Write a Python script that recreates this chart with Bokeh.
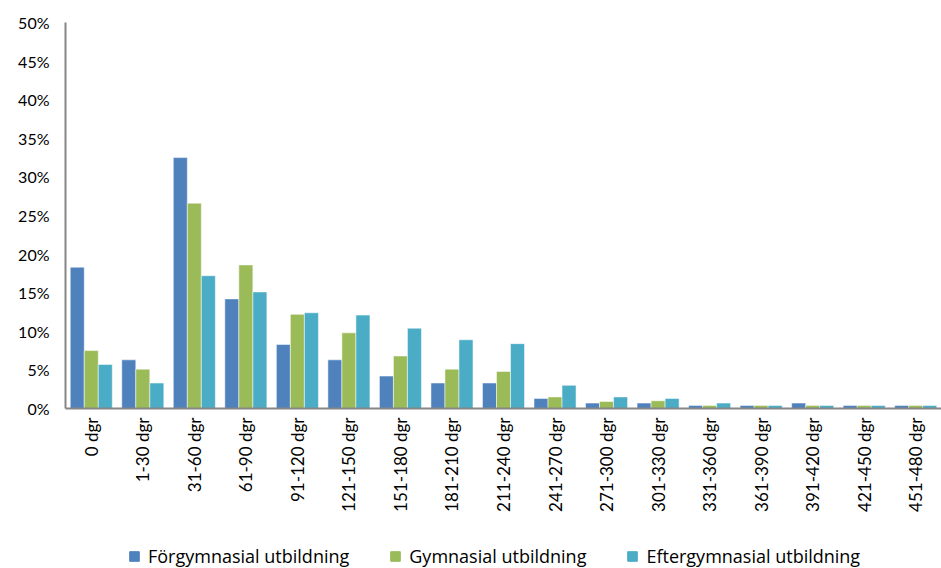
import math
from bokeh.plotting import figure
from bokeh.layouts import column
from bokeh.models import FactorRange, ColumnDataSource, Legend, LegendItem, NumeralTickFormatter, SingleIntervalTicker
from bokeh.transform import dodge
from bokeh.embed import file_html
from bokeh.resources import INLINE

categories = ["0 dgr", "1-30 dgr", "31-60 dgr", "61-90 dgr", "91-120 dgr", "121-150 dgr",
              "151-180 dgr", "181-210 dgr", "211-240 dgr", "241-270 dgr", "271-300 dgr",
              "301-330 dgr", "331-360 dgr", "361-390 dgr", "391-420 dgr", "421-450 dgr",
              "451-480 dgr"]
forgymnasial = [0.183, 0.063, 0.325, 0.142, 0.083, 0.063, 0.042, 0.033, 0.033, 0.013, 0.007,
                0.007, 0.004, 0.004, 0.007, 0.004, 0.004]
gymnasial = [0.075, 0.051, 0.266, 0.186, 0.122, 0.098, 0.068, 0.051, 0.048, 0.015, 0.009,
             0.010, 0.004, 0.004, 0.004, 0.004, 0.004]
eftergymnasial = [0.057, 0.033, 0.172, 0.151, 0.124, 0.121, 0.104, 0.089, 0.084, 0.030, 0.015,
                  0.013, 0.007, 0.004, 0.004, 0.004, 0.004]
series_names = ["Förgymnasial utbildning", "Gymnasial utbildning", "Eftergymnasial utbildning"]
colors = ["#4F81BD", "#9BBB59", "#4BACC6"]

source = ColumnDataSource(dict(cat=categories, f=forgymnasial, g=gymnasial, e=eftergymnasial))

FONT = "Lato"

p = figure(x_range=FactorRange(*categories), y_range=(0, 0.5),
           frame_width=876, frame_height=386,
           output_backend="svg", toolbar_location=None,
           min_border_left=65, min_border_right=0, min_border_top=22, min_border_bottom=130)
p.outline_line_color = None
p.xgrid.grid_line_color = None
p.ygrid.grid_line_color = None
p.x_range.range_padding = 0
p.x_range.group_padding = 0

w = 0.272
for col, off, c in zip(["f", "g", "e"], [-w, 0, w], colors):
    p.vbar(x=dodge("cat", off, range=p.x_range), top=col, width=w, source=source,
           fill_color=c, line_color="white", line_alpha=0.5, line_width=1)

p.yaxis.ticker = SingleIntervalTicker(interval=0.05)
p.yaxis.formatter = NumeralTickFormatter(format="0%")
for ax in (p.xaxis, p.yaxis):
    ax.axis_line_color = "#868686"
    ax.axis_line_width = 2
    ax.major_tick_line_color = None
    ax.minor_tick_line_color = None
    ax.major_tick_out = 0
    ax.major_label_text_font = FONT
    ax.major_label_text_color = "#000000"
p.yaxis.major_label_text_font_size = "16px"
p.xaxis.major_label_text_font_size = "17px"
p.yaxis.major_label_standoff = 12
p.xaxis.major_label_orientation = math.pi / 2
p.xaxis.major_label_standoff = 9

# legend in a separate strip below the chart
lg = figure(width=941, height=30, x_range=(0, 1), y_range=(0, 1),
            output_backend="svg", toolbar_location=None,
            min_border=0, x_axis_type=None, y_axis_type=None)
lg.outline_line_color = None
lg.xgrid.grid_line_color = None
lg.ygrid.grid_line_color = None
items = []
for n, c in zip(series_names, colors):
    # legend swatch only: the quad lies outside the strip's visible range
    r = lg.quad(left=[5], right=[6], bottom=[5], top=[6], fill_color=c, line_color=c)
    items.append(LegendItem(label=n, renderers=[r]))
legend = Legend(items=items, orientation="horizontal", location=(63, 0))
legend.label_text_font = "Open Sans"
legend.label_text_font_size = "18px"
legend.label_text_color = "#000000"
legend.glyph_width = 12
legend.glyph_height = 12
legend.spacing = 40
legend.label_standoff = 8
legend.border_line_color = None
legend.background_fill_alpha = 0
legend.margin = 0
legend.padding = 2
lg.add_layout(legend, "center")

layout = column(p, lg, spacing=0)
open("out.html", "w").write(file_html(layout, INLINE))
